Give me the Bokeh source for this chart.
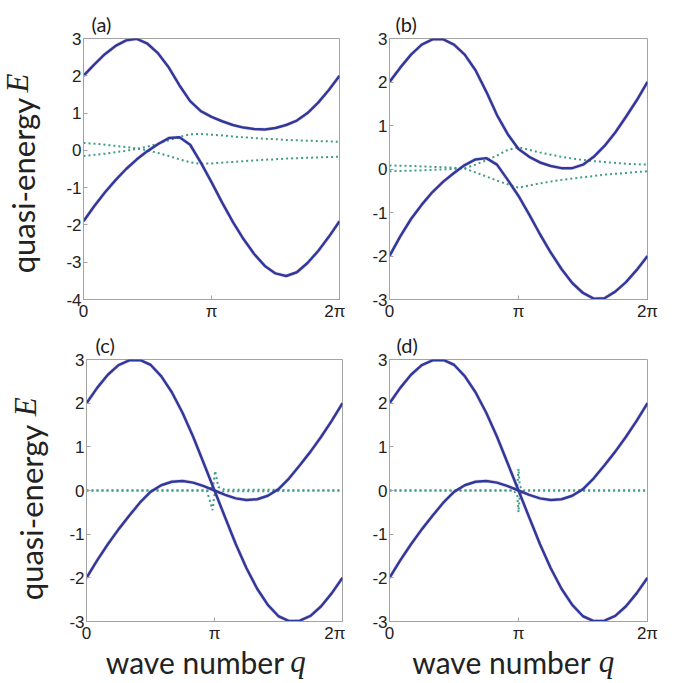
import math
from bokeh.plotting import figure
from bokeh.layouts import column, row
from bokeh.models import FixedTicker, Range1d, Spacer
from bokeh.core.properties import value
from bokeh.embed import file_html
from bokeh.resources import INLINE

# wave number q in units of pi (sampled every pi/12)
Q = [0.0, 0.0833, 0.1667, 0.25, 0.3333, 0.4167, 0.5, 0.5833, 0.6667, 0.75,
     0.8333, 0.9167, 1.0, 1.0833, 1.1667, 1.25, 1.3333, 1.4167, 1.5, 1.5833,
     1.6667, 1.75, 1.8333, 1.9167, 2.0]

# panel (a)
A_UP = [2.00, 2.30, 2.58, 2.80, 2.95, 2.99, 2.86, 2.60, 2.22, 1.74, 1.32, 1.05, 0.90,
        0.78, 0.68, 0.61, 0.57, 0.56, 0.60, 0.68, 0.80, 1.00, 1.28, 1.62, 2.00]
A_LO = [-1.90, -1.50, -1.13, -0.80, -0.50, -0.24, -0.02, 0.17, 0.33, 0.35, 0.15, -0.33, -0.85,
        -1.40, -1.92, -2.38, -2.78, -3.10, -3.30, -3.37, -3.27, -3.02, -2.70, -2.32, -1.90]
A_D1 = [0.20, 0.18, 0.15, 0.12, 0.09, 0.05, 0.00, -0.07, -0.15, -0.24, -0.32, -0.36, -0.35,
        -0.33, -0.31, -0.29, -0.27, -0.25, -0.24, -0.22, -0.21, -0.20, -0.19, -0.18, -0.17]
A_D2 = [-0.15, -0.12, -0.09, -0.05, -0.01, 0.04, 0.10, 0.18, 0.27, 0.36, 0.43, 0.44, 0.42,
        0.40, 0.37, 0.35, 0.33, 0.31, 0.30, 0.28, 0.27, 0.26, 0.25, 0.24, 0.23]

# panel (b)
B_UP = [2.00, 2.33, 2.63, 2.86, 2.98, 2.98, 2.86, 2.63, 2.27, 1.78, 1.24, 0.80, 0.46,
        0.28, 0.15, 0.07, 0.02, 0.02, 0.10, 0.28, 0.53, 0.84, 1.20, 1.58, 2.00]
B_LO = [-2.00, -1.55, -1.15, -0.82, -0.53, -0.29, -0.09, 0.09, 0.22, 0.25, 0.10, -0.25, -0.62,
        -1.05, -1.50, -1.92, -2.30, -2.62, -2.85, -2.98, -2.97, -2.82, -2.60, -2.32, -2.00]
B_D1 = [0.08, 0.075, 0.07, 0.06, 0.05, 0.04, 0.03, 0.01, -0.08, -0.17, -0.27, -0.35, -0.43,
        -0.38, -0.33, -0.29, -0.25, -0.22, -0.19, -0.16, -0.13, -0.11, -0.09, -0.07, -0.05]
B_D2 = [-0.05, -0.045, -0.04, -0.03, -0.02, -0.01, 0.00, 0.02, 0.10, 0.20, 0.31, 0.44, 0.50,
        0.44, 0.38, 0.33, 0.28, 0.24, 0.21, 0.18, 0.16, 0.14, 0.12, 0.11, 0.10]

# panel (c)
C_A = [2.00, 2.35, 2.65, 2.87, 2.98, 2.99, 2.88, 2.62, 2.25, 1.78, 1.23, 0.62, 0.00,
       -0.62, -1.23, -1.78, -2.25, -2.62, -2.88, -2.99, -2.98, -2.87, -2.65, -2.35, -2.00]
C_B = [-2.00, -1.60, -1.23, -0.89, -0.58, -0.28, -0.03, 0.12, 0.20, 0.22, 0.18, 0.10, 0.00,
       -0.10, -0.18, -0.22, -0.20, -0.12, 0.03, 0.28, 0.58, 0.89, 1.23, 1.60, 2.00]
C_DQ1 = [0.0, 0.95, 0.99, 1.005, 1.03, 1.08, 1.45, 1.6, 2.0]
C_D1 = [0.0, 0.0, 0.10, 0.45, 0.08, 0.02, 0.02, 0.0, 0.0]
C_DQ2 = [0.0, 0.94, 0.985, 1.0, 1.04, 1.08, 1.45, 1.6, 2.0]
C_D2 = [0.0, 0.0, -0.45, -0.10, -0.02, -0.02, -0.02, 0.0, 0.0]

# panel (d)
D_A = [2.00, 2.35, 2.65, 2.87, 2.98, 2.99, 2.88, 2.62, 2.25, 1.78, 1.23, 0.62, 0.00,
       -0.62, -1.23, -1.78, -2.25, -2.62, -2.88, -2.99, -2.98, -2.87, -2.65, -2.35, -2.00]
D_B = [-2.00, -1.60, -1.23, -0.89, -0.58, -0.28, -0.03, 0.12, 0.20, 0.22, 0.18, 0.10, 0.00,
       -0.10, -0.18, -0.22, -0.20, -0.12, 0.03, 0.28, 0.58, 0.89, 1.23, 1.60, 2.00]
D_DQ = [0.0, 0.96, 0.99, 1.0, 1.01, 1.04, 2.0]
D_D1 = [0.0, 0.0, 0.10, 0.50, 0.10, 0.0, 0.0]
D_D2 = [0.0, 0.0, -0.10, -0.50, -0.10, 0.0, 0.0]

X_TICKS = [0, 1, 2]
X_LABELS = {0: "0", 1: "π", 2: "2π"}
Y_LABEL = "quasi-energy"
Y_SYM = "E"
X_LABEL = "wave number"
X_SYM = "q"

BLUE = "#2b3b9c"
HALO = "#d8609a"
DOT = "#3f9c86"
FRAME = "#a3a3a3"
SANS = "Lato"
TICKFONT = "Liberation Sans"
SERIF = "Liberation Serif"
TXT = "#222222"


def panel(width, height, bl, br, bt, bb, ymin, ymax, curves, dots, letter, letter_offset):
    p = figure(width=width, height=height, x_range=Range1d(0, 2), y_range=Range1d(ymin, ymax),
               output_backend="svg", toolbar_location=None,
               min_border_left=bl, min_border_right=br, min_border_top=bt, min_border_bottom=bb)
    p.xgrid.visible = False
    p.ygrid.visible = False
    p.outline_line_color = FRAME
    yt = list(range(ymin, ymax + 1))
    for ax, ticks, over in ((p.xaxis[0], X_TICKS, X_LABELS),
                            (p.yaxis[0], yt, {t: str(t) for t in yt})):
        ax.ticker = FixedTicker(ticks=ticks)
        ax.major_label_overrides = over
        ax.major_tick_in = 4
        ax.major_tick_out = 0
        ax.minor_tick_line_color = None
        ax.axis_line_color = FRAME
        ax.major_tick_line_color = FRAME
        ax.major_label_text_font = TICKFONT
        ax.major_label_text_font_size = "17px"
        ax.major_label_text_color = TXT
        ax.major_label_standoff = 2
    for qs, es in dots:
        p.line(qs, es, line_color=DOT, line_width=2, line_dash="2 3")
    for es in curves:
        p.line(Q, es, line_color=HALO, line_width=3.8, line_alpha=0.25)
        p.line(Q, es, line_color=BLUE, line_width=2.5)
    p.title.text = letter
    p.title.align = "left"
    p.title.offset = letter_offset
    p.title.text_font = SANS
    p.title.text_font_size = "20px"
    p.title.text_font_style = "normal"
    p.title.text_color = "#1a1a1a"
    p.title.standoff = 6
    return p


def canvas(width, height):
    c = figure(width=width, height=height, x_range=Range1d(0, width), y_range=Range1d(0, height),
               output_backend="svg", toolbar_location=None, x_axis_location=None,
               y_axis_location=None, min_border=0, title=None)
    c.xgrid.visible = False
    c.ygrid.visible = False
    c.outline_line_color = None
    return c


def ylabel_canvas(width, height, x0, y0, x1, y1):
    c = canvas(width, height)
    c.text(x=[x0], y=[y0], text=[Y_LABEL], angle=math.pi / 2, text_font=value(SANS),
           text_font_size="31px", text_color=TXT, text_align="center", text_baseline="middle")
    c.text(x=[x1], y=[y1], text=[Y_SYM], angle=math.pi / 2, text_font=value(SERIF),
           text_font_style="italic", text_font_size="31px", text_color=TXT,
           text_align="center", text_baseline="middle")
    return c


def xlabel_canvas(width, height, x0, x1, y):
    c = canvas(width, height)
    c.text(x=[x0], y=[y], text=[X_LABEL], text_font=value(SANS), text_font_size="30px",
           text_color=TXT, text_align="center", text_baseline="middle")
    c.text(x=[x1], y=[y], text=[X_SYM], text_font=value(SERIF), text_font_style="italic",
           text_font_size="31px", text_color=TXT, text_align="center", text_baseline="middle")
    return c


pa = panel(285, 323, 23, 6, 36, 22, -4, 3, [A_UP, A_LO], [(Q, A_D1), (Q, A_D2)], "(a)", 8)
pb = panel(336, 323, 44, 34, 38, 21, -3, 3, [B_UP, B_LO], [(Q, B_D1), (Q, B_D2)], "(b)", 6)
pc = panel(285, 322, 26, 3, 36, 21, -3, 3, [C_A, C_B], [(C_DQ1, C_D1), (C_DQ2, C_D2)], "(c)", 9)
pd = panel(336, 322, 44, 34, 35, 22, -3, 3, [D_A, D_B], [(D_DQ, D_D1), (D_DQ, D_D2)], "(d)", 7)

ya = ylabel_canvas(60, 323, 22, 141, 17, 268)
yc = ylabel_canvas(60, 322, 30, 134, 25, 264)
xc = xlabel_canvas(285, 38, 134.5, 237.5, 22)
xd = xlabel_canvas(336, 38, 156, 261, 22)

layout = column(row(ya, pa, pb), row(yc, pc, pd), row(Spacer(width=60, height=38), xc, xd))
open("out.html", "w").write(file_html(layout, INLINE))
